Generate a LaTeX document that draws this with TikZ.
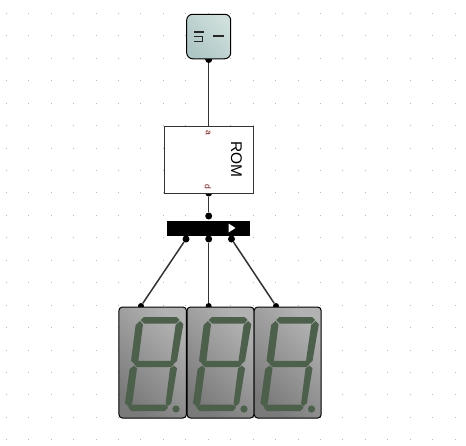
\documentclass[tikz,border=0pt]{standalone}
\usepackage{fontspec}
\setmainfont{Liberation Sans}
\newcommand{\digitsegs}[1]{%
  \begin{scope}[shift={(#1)}]
    \fill[segcol] (21.7,13)--(25,10)--(57.7,10)--(60.6,13)--(57.3,16.6)--(25.3,16.6)--cycle;
    \fill[segcol] (61.2,14)--(64.3,17.3)--(58,54)--(55,56.6)--(51.5,54)--(56.6,18)--cycle;
    \fill[segcol] (21,14)--(24,17.3)--(19.3,54)--(15.7,57)--(12,54)--(16.6,18)--cycle;
    \fill[segcol] (17.7,53.8)--(52,53.8)--(55,57)--(52,60)--(17.7,60)--(15,57)--cycle;
    \fill[segcol] (55,58.7)--(58,61.3)--(52.3,96.3)--(48,99.7)--(46.6,96.3)--(51,61.3)--cycle;
    \fill[segcol] (15,58.7)--(18,61.3)--(13.3,96.3)--(10,99.7)--(6,96.3)--(10.6,62)--cycle;
    \fill[segcol] (11,97.6)--(46,97.6)--(49,100.7)--(46,104)--(12.7,104)--(9.3,100.7)--cycle;
    \fill[segcol] (57,102) circle (3.6);
  \end{scope}}
\tikzset{
  x=1pt,y=-1pt,
  segcol/.style={fill=segment},
  griddot/.style={fill=black!28},
  disp/.style={draw=black,line width=1pt,rounded corners=3.5pt,shade,left color=disptop,right color=dispbot,shading angle=-45},
  pin/.style={circle,fill=black,inner sep=0pt,minimum size=7pt},
  wire/.style={draw=black!80,line width=1.5pt},
  lbl/.style={text=portred,font=\fontsize{8.5}{9}\selectfont,rotate=-90,inner sep=0pt},
}
\definecolor{segment}{HTML}{4C604C}
\definecolor{disptop}{HTML}{B2B2B2}
\definecolor{dispbot}{HTML}{7A7A7A}
\definecolor{portred}{HTML}{701818}
\definecolor{intop}{HTML}{CFE0DC}
\definecolor{inbot}{HTML}{AEC6C6}
\begin{document}
\begin{tikzpicture}
  \useasboundingbox (0,0) rectangle (466,445);
  \fill[white] (0,0) rectangle (466,445);
  \foreach \i in {0,...,20}
    \foreach \j in {0,...,19}
      \fill[griddot] ({6.2+22.45*\i-0.5},{13.3+22.45*\j-0.5}) rectangle ++(1,1);

  % connectors
  \node[pin,minimum size=7pt] (inpin) at (208.7,59.5) {};
  \coordinate (ra) at (208.7,127);
  \node[pin,minimum size=7pt] (rd) at (208.7,193) {};
  \node[pin] (sin) at (208.7,216) {};
  \node[pin] (s1) at (186,239) {};
  \node[pin] (s2) at (208.7,239) {};
  \node[pin] (s3) at (231.5,239) {};
  \node[pin,minimum size=6pt] (p1) at (141,306) {};
  \node[pin,minimum size=6pt] (p2) at (208.7,306) {};
  \node[pin,minimum size=6pt] (p3) at (276,306) {};
  \draw[wire] (inpin) -- (ra);
  \draw[wire] (rd) -- (sin);
  \draw[wire] (s1) -- (p1);
  \draw[wire] (s2) -- (p2);
  \draw[wire] (s3) -- (p3);

  % input
  \node[draw=black,line width=1pt,rounded corners=6pt,minimum width=44pt,minimum height=44.5pt,inner sep=0pt,
        shade,left color=intop,right color=inbot,shading angle=-45] (inp) at (208.7,36.5) {};
  \draw[black!85,line width=1.4pt] (194,31.8)--(204,31.8);
  \draw[black!85,line width=1.1pt] (193.5,36.6)--(202.8,36.6)--(202.8,41.6)--(193.5,41.6);
  \draw[black!85,line width=1.2pt] (213,36)--(224,36);

  % ROM
  \node[draw=black!80,fill=white,line width=0.9pt,minimum width=89.5pt,minimum height=66.5pt,inner sep=0pt] (rom) at (208.7,160) {};
  \node[rotate=-90,font=\fontsize{15.5}{17}\selectfont,inner sep=0pt] (romlabel) at (236.5,159.5) {ROM};
  \node[lbl] (a) at (208,133) {a};
  \node[lbl] (d) at (208,187) {d};

  % splitter
  \node[fill=black,minimum width=82.5pt,minimum height=15pt,inner sep=0pt] (sp) at (208.7,228) {};
  \fill[white] (228.5,223.5)--(235.5,228)--(228.5,232.5)--cycle;

  % displays
  \node[disp,minimum width=67.5pt,minimum height=111pt,inner sep=0pt] (d1) at (152.7,362.5) {};
  \node[disp,minimum width=67pt,minimum height=111pt,inner sep=0pt] (d2) at (220.5,362.5) {};
  \node[disp,minimum width=67pt,minimum height=111pt,inner sep=0pt] (d3) at (287.7,362.5) {};
  \digitsegs{119,307}
  \digitsegs{187,307}
  \digitsegs{254.5,307}
\end{tikzpicture}
\end{document}
